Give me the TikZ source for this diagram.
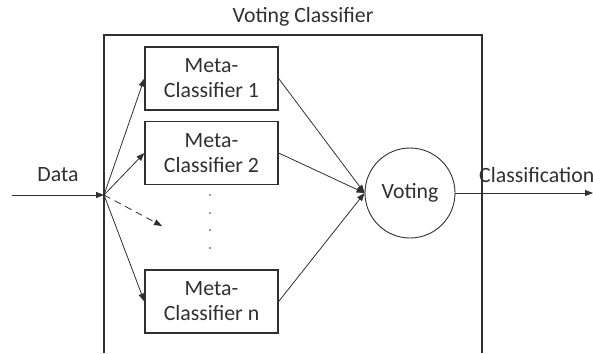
\documentclass[tikz,border=0pt]{standalone}
\usepackage{fontspec}
\setmainfont{Carlito}
\usetikzlibrary{arrows.meta}
\definecolor{ink}{HTML}{303030}
\begin{document}
\begin{tikzpicture}[x=1pt,y=-1pt,
  every node/.style={text=ink,font=\fontsize{21.8}{25}\selectfont},
  metabox/.style={draw=ink,line width=1.3pt,rectangle,minimum width=133pt,minimum height=63pt,align=center,inner sep=0pt},
  votenode/.style={draw=ink,line width=0.9pt,circle,minimum size=90pt,inner sep=0pt},
  link/.style={draw=ink,line width=0.8pt,-{Triangle[length=8pt,width=6pt]}},
  frame/.style={draw=ink,line width=1.3pt}]
\useasboundingbox (0,0) rectangle (593,353);

% enclosing frame of the ensemble, open at the bottom
\draw[frame] (104,353) -- (104,35) -- (482,35) -- (482,353);
\node (title) at (303,17) {Voting Classifier};

% members
\node[metabox] (m1) at (211.5,78.5) {Meta-\\Classifier 1};
\node[metabox] (m2) at (211.5,153) {Meta-\\Classifier 2};
\node[metabox] (mn) at (211.5,301.5) {Meta-\\Classifier n};

% vertical ellipsis between member 2 and member n
\foreach \yy in {195,213,230,248}
  \fill[ink] (210,\yy) circle (0.8pt);

% voting stage
\node[votenode] (vote) at (410,193) {Voting};

% input
\coordinate (src) at (12,195);
\coordinate (fan) at (104,195);
\coordinate (more) at (162,226);
\coordinate (out) at (593,193);
\node (data) at (58,175) {Data};
\node[anchor=west,inner sep=0pt] (cls) at (479,175) {Classification};

\draw[link] (src) -- (fan);
\draw[link] (fan) -- (m1.west);
\draw[link] (fan) -- (m2.west);
\draw[link] (fan) -- (mn.west);
\draw[link,dashed,dash pattern=on 7pt off 5pt] (fan) -- (more);

\draw[link] (m1.east) -- (vote.west);
\draw[link] (m2.east) -- (vote.west);
\draw[link] (mn.east) -- (vote.west);

\draw[link] (vote.east) -- (out);
\end{tikzpicture}
\end{document}
